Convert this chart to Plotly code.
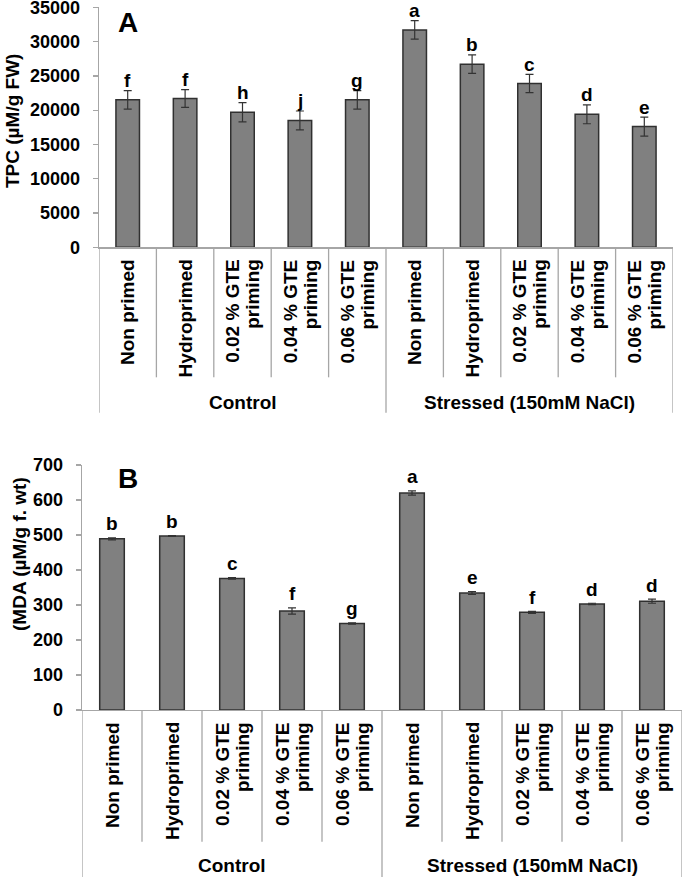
import plotly.graph_objects as go

# ---------------- data ----------------
categories = ["Non primed", "Hydroprimed", "0.02 % GTE<br>priming", "0.04 % GTE<br>priming",
              "0.06 % GTE<br>priming", "Non primed", "Hydroprimed", "0.02 % GTE<br>priming",
              "0.04 % GTE<br>priming", "0.06 % GTE<br>priming"]
groups = ["Control", "Stressed (150mM NaCl)"]
group_centers = [2, 7]

tpc = [21500, 21700, 19700, 18500, 21500, 31700, 26700, 23900, 19400, 17600]
tpc_err = [1350, 1300, 1400, 1380, 1350, 1350, 1350, 1330, 1380, 1380]
tpc_letters = ["f", "f", "h", "j", "g", "a", "b", "c", "d", "e"]

mda = [489, 497, 376, 283, 247, 620, 334, 279, 303, 311]
mda_err = [3, 1, 2, 9, 2, 6, 4, 3, 2, 6]
mda_letters = ["b", "b", "c", "f", "g", "a", "e", "f", "d", "d"]

x_idx = list(range(len(categories)))

FONT = "Liberation Sans, Arial, sans-serif"
AXIS_GRAY = "#a6a6a6"
BAR_FILL = "#808080"
BAR_LINE = "#303030"
W, H = 685, 877
LINE_PITCH = 20  # spacing between the two lines of a rotated category label

def px_to_paper_y(py):
    return 1 - py / H

def px_to_paper_x(px):
    return px / W

fig = go.Figure()

fig.add_trace(go.Bar(
    x=x_idx, y=tpc, xaxis="x", yaxis="y",
    marker=dict(color=BAR_FILL, line=dict(color=BAR_LINE, width=1.5)),
    error_y=dict(type="data", array=tpc_err, color="#333333", thickness=1.2, width=4),
    showlegend=False, hoverinfo="skip",
))
fig.add_trace(go.Bar(
    x=x_idx, y=mda, xaxis="x2", yaxis="y2",
    marker=dict(color=BAR_FILL, line=dict(color=BAR_LINE, width=1.5)),
    error_y=dict(type="data", array=mda_err, color="#333333", thickness=1.2, width=4),
    showlegend=False, hoverinfo="skip",
))

# panel geometry (pixels)
panels = [
    dict(xa="x", ya="y", left=99, right=673, top=7.3, bottom=247.3, inner_end=377.3, group_end=412.7,
         group_label_y=402.5, vals=tpc, errs=tpc_err, letters=tpc_letters, letter_shift=10,
         title="TPC (µM/g FW)", title_x=13, title_y=121, tag="A", tag_y=23,
         rng=[0, 35000], dtick=5000),
    dict(xa="x2", ya="y2", left=82, right=682, top=465, bottom=710, inner_end=841.7, group_end=877,
         group_label_y=865, vals=mda, errs=mda_err, letters=mda_letters, letter_shift=14,
         title="(MDA (µM/g f. wt)", title_x=19, title_y=554, tag="B", tag_y=478,
         rng=[0, 700], dtick=100),
]

annotations = []
shapes = []
layout_axes = {}
for k, p in enumerate(panels):
    xname = "xaxis" if k == 0 else "xaxis2"
    yname = "yaxis" if k == 0 else "yaxis2"
    layout_axes[xname] = dict(
        domain=[px_to_paper_x(p["left"]), px_to_paper_x(p["right"])],
        range=[-0.5, len(categories) - 0.5],
        anchor=p["ya"], showticklabels=False, ticks="", automargin=False,
        showline=True, linecolor=AXIS_GRAY, linewidth=1.3,
        showgrid=False, zeroline=False, fixedrange=True,
    )
    layout_axes[yname] = dict(
        domain=[px_to_paper_y(p["bottom"]), px_to_paper_y(p["top"])],
        range=p["rng"], dtick=p["dtick"], anchor=p["xa"], automargin=False,
        tickformat="d", ticklabeloverflow="allow",
        showline=True, linecolor=AXIS_GRAY, linewidth=1.3,
        ticks="outside", ticklen=5, tickcolor=AXIS_GRAY, tickwidth=1.3,
        ticklabelstandoff=9,
        tickfont=dict(family=FONT, size=18, color="black", weight="bold"),
        showgrid=False, zeroline=False, fixedrange=True,
    )
    # category labels (rotated; multi-line labels as tightly spaced columns, top aligned)
    for i, c in enumerate(categories):
        lines = c.split("<br>")
        m = len(lines)
        for li, line in enumerate(lines):
            annotations.append(dict(
                x=i, y=0, xref=p["xa"], yref=p["ya"], text=line, showarrow=False,
                textangle=-90, xanchor="center", yanchor="top", yshift=-10,
                xshift=(li - (m - 1) / 2) * LINE_PITCH,
                font=dict(family=FONT, size=19, color="black", weight="bold"),
            ))
    # group labels
    for g, gc in zip(groups, group_centers):
        annotations.append(dict(
            x=gc, y=px_to_paper_y(p["group_label_y"]), xref=p["xa"], yref="paper", text=g,
            showarrow=False, xanchor="center", yanchor="middle",
            font=dict(family=FONT, size=19, color="black", weight="bold"),
        ))
    # significance letters (above the error bar)
    for i, (v, e, L) in enumerate(zip(p["vals"], p["errs"], p["letters"])):
        annotations.append(dict(
            x=i, y=v + e, xref=p["xa"], yref=p["ya"], text=L, showarrow=False,
            xanchor="center", yanchor="middle", yshift=p["letter_shift"],
            font=dict(family=FONT, size=19, color="black", weight="bold"),
        ))
    # axis title
    annotations.append(dict(
        x=px_to_paper_x(p["title_x"]), y=px_to_paper_y(p["title_y"]), xref="paper", yref="paper",
        text=p["title"], showarrow=False, textangle=-90, xanchor="center", yanchor="middle",
        font=dict(family=FONT, size=19, color="black", weight="bold"),
    ))
    # panel tag
    annotations.append(dict(
        x=px_to_paper_x(128), y=px_to_paper_y(p["tag_y"]), xref="paper", yref="paper",
        text=p["tag"], showarrow=False, xanchor="center", yanchor="middle",
        font=dict(family=FONT, size=28, color="black", weight="bold"),
    ))
    # separators
    n = len(categories)
    for j in range(n + 1):
        xb = j - 0.5
        is_group = j in (0, n // 2, n)
        end = p["group_end"] if is_group else p["inner_end"]
        shapes.append(dict(
            type="line", xref=p["xa"], yref="paper",
            x0=xb, x1=xb, y0=px_to_paper_y(p["bottom"]), y1=px_to_paper_y(end),
            line=dict(color=AXIS_GRAY, width=1.3),
        ))

fig.update_layout(
    width=W, height=H,
    margin=dict(l=0, r=0, t=0, b=0, pad=0, autoexpand=False),
    paper_bgcolor="white", plot_bgcolor="white",
    bargap=0.59,
    annotations=annotations, shapes=shapes,
    **layout_axes,
)

fig.write_html(
    "out.html",
    config={"displayModeBar": False, "staticPlot": True},
    post_script="document.body.style.margin='0';document.body.style.padding='0';document.body.style.overflow='hidden';",
)
